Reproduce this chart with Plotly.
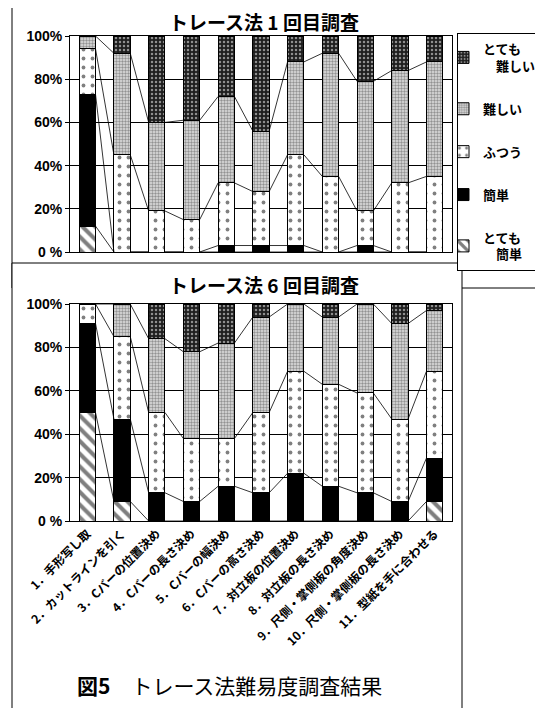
import plotly.graph_objects as go

# ---------------- data ----------------
categories = ["1．手形写し取", "2．カットラインを引く", "3．Cバーの位置決め",
              "4．Cバーの長さ決め", "5．Cバーの幅決め", "6．Cバーの高さ決め",
              "7．対立板の位置決め", "8．対立板の長さ決め",
              "9．尺側・掌側板の角度決め", "10．尺側・掌側板の長さ決め",
              "11．型紙を手に合わせる"]
levels = ["とても簡単", "簡単", "ふつう", "難しい", "とても難しい"]
legend_labels = ["とても<br>　簡単", "簡単", "ふつう", "難しい", "とても<br>　難しい"]

# 1回目調査 (%)
very_easy_1 = [12, 0, 0, 0, 0, 0, 0, 0, 0, 0, 0]
easy_1      = [61, 0, 0, 0, 3, 3, 3, 0, 3, 0, 0]
normal_1    = [21, 45, 19, 15, 29, 25, 42, 35, 16, 32, 35]
hard_1      = [6, 47, 41, 46, 40, 28, 43, 57, 60, 52, 53]
very_hard_1 = [0, 8, 40, 39, 28, 44, 12, 8, 21, 16, 12]

# 6回目調査 (%)
very_easy_6 = [50, 9, 0, 0, 0, 0, 0, 0, 0, 0, 9]
easy_6      = [41, 38, 13, 9, 16, 13, 22, 16, 13, 9, 20]
normal_6    = [9, 38, 37, 29, 22, 37, 47, 47, 46, 38, 40]
hard_6      = [0, 15, 34, 40, 44, 44, 31, 31, 41, 44, 28]
very_hard_6 = [0, 0, 16, 22, 18, 6, 0, 6, 0, 9, 3]

y_tickvals = [0, 20, 40, 60, 80, 100]
y_ticktext = ["0 %", "20%", "40%", "60%", "80%", "100%"]

titles = ["トレース法 1 回目調査", "トレース法 6 回目調査"]
caption = "<b>図5</b>　トレース法難易度調査結果"

# ---------------- layout helpers ----------------
W, H = 543, 708
OFF = 8  # page body margin in the browser
def px(x):
    return (x - OFF) / W
def py(y):
    return 1 - (y - OFF) / H

FONT_JP = "Noto Sans CJK JP"
BAR_W = 0.47

styles = [
    dict(color="white", line=dict(color="black", width=1),
         pattern=dict(shape="\\", fgcolor="black", bgcolor="white", size=9, solidity=0.45)),
    dict(color="black", line=dict(color="black", width=1)),
    dict(color="white", line=dict(color="black", width=1),
         pattern=dict(shape=".", fgcolor="black", bgcolor="white", size=9, solidity=0.14)),
    dict(color="#cfcfcf", line=dict(color="black", width=1),
         pattern=dict(shape=".", fgcolor="#444444", bgcolor="#e0e0e0", size=3, solidity=0.5)),
    dict(color="#222222", line=dict(color="black", width=1),
         pattern=dict(shape=".", fgcolor="white", bgcolor="#1e1e1e", size=4, solidity=0.3)),
]

panels = [
    ([very_easy_1, easy_1, normal_1, hard_1, very_hard_1], "x", "y"),
    ([very_easy_6, easy_6, normal_6, hard_6, very_hard_6], "x2", "y2"),
]

fig = go.Figure()
xs = list(range(len(categories)))

for p, (series, xa, ya) in enumerate(panels):
    for k, vals in enumerate(series):
        fig.add_trace(go.Bar(
            x=xs, y=vals, width=BAR_W, marker=styles[k],
            name=legend_labels[k], legendgroup=levels[k],
            legendrank=100 - k, showlegend=(p == 0),
            xaxis=xa, yaxis=ya, hoverinfo="skip"))
    # series lines (Excel style) connecting each cumulative boundary
    cum = [0] * len(xs)
    for k, vals in enumerate(series[:-1]):
        cum = [c + v for c, v in zip(cum, vals)]
        lx, ly = [], []
        for i in range(len(xs) - 1):
            lx += [xs[i] + BAR_W / 2, xs[i + 1] - BAR_W / 2, None]
            ly += [cum[i], cum[i + 1], None]
        fig.add_trace(go.Scatter(x=lx, y=ly, mode="lines",
                                 line=dict(color="black", width=0.8),
                                 showlegend=False, hoverinfo="skip",
                                 xaxis=xa, yaxis=ya))

axis_common = dict(showline=True, mirror=True, linecolor="black", linewidth=1,
                   automargin=False)
xdom = [px(70), px(452)]
ytick_font = dict(family="Liberation Sans", size=14, weight="bold")
fig.update_layout(
    width=W, height=H,
    margin=dict(l=0, r=0, t=0, b=0, autoexpand=False),
    paper_bgcolor="white", plot_bgcolor="white",
    barmode="stack",
    font=dict(family=FONT_JP, color="black"),
    xaxis=dict(domain=xdom, anchor="y", range=[-0.5, len(xs) - 0.5],
               showticklabels=False, showgrid=False, zeroline=False, ticks="",
               **axis_common),
    yaxis=dict(domain=[py(252), py(36)], anchor="x", range=[0, 100],
               tickvals=y_tickvals, ticktext=y_ticktext, ticks="outside",
               ticklen=4, tickcolor="black", showgrid=True, gridcolor="black",
               gridwidth=1, zeroline=False, tickfont=ytick_font,
               **axis_common),
    xaxis2=dict(domain=xdom, anchor="y2", range=[-0.5, len(xs) - 0.5],
                tickvals=xs, ticktext=categories, tickangle=-45,
                showgrid=False, zeroline=False, ticks="",
                tickfont=dict(family=FONT_JP, size=12, weight="bold"),
                **axis_common),
    yaxis2=dict(domain=[py(521), py(304)], anchor="x2", range=[0, 100],
                tickvals=y_tickvals, ticktext=y_ticktext, ticks="outside",
                ticklen=4, tickcolor="black", showgrid=True, gridcolor="black",
                gridwidth=1, zeroline=False, tickfont=ytick_font,
                **axis_common),
    legend=dict(x=px(457), y=py(33), xanchor="left", yanchor="top",
                bordercolor="black", borderwidth=1, bgcolor="white",
                font=dict(family=FONT_JP, size=13, weight="bold"),
                traceorder="grouped", tracegroupgap=23,
                itemwidth=30, indentation=-15),
    shapes=[
        dict(type="rect", xref="paper", yref="paper", layer="below",
             x0=px(12), x1=px(537), y0=py(288), y1=py(3),
             line=dict(color="black", width=1), fillcolor="white"),
        dict(type="rect", xref="paper", yref="paper", layer="below",
             x0=px(12), x1=px(462), y0=py(720), y1=py(263),
             line=dict(color="black", width=1), fillcolor="white"),
    ],
    annotations=[
        dict(text=f"<b>{titles[0]}</b>", x=px(264), y=py(21), xref="paper",
             yref="paper", yanchor="middle", showarrow=False, borderpad=0,
             font=dict(size=19)),
        dict(text=f"<b>{titles[1]}</b>", x=px(264), y=py(284), xref="paper",
             yref="paper", yanchor="middle", showarrow=False, borderpad=0,
             font=dict(size=19)),
        dict(text=caption, x=px(75), y=py(685), xref="paper", yref="paper",
             xanchor="left", yanchor="middle", showarrow=False, font=dict(size=21)),
    ],
)

fig.write_html("out.html")
